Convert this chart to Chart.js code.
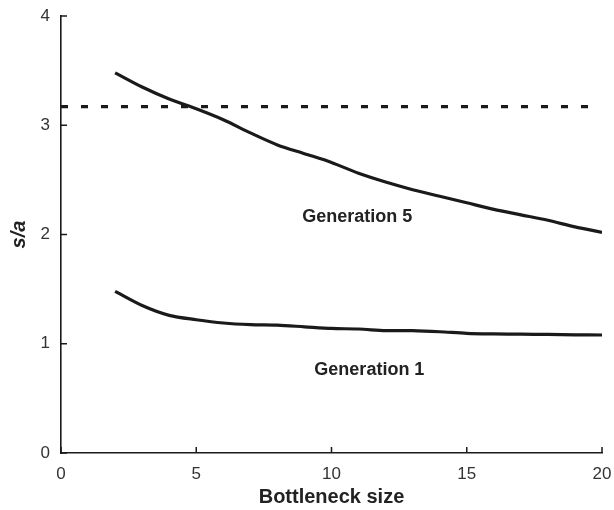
<!DOCTYPE html>
<html>
<head>
<meta charset="utf-8">
<script src="https://cdn.jsdelivr.net/npm/chart.js@4.4.1/dist/chart.umd.min.js"></script>
<style>
  html, body { margin: 0; padding: 0; background: #fff; }
  #wrap { width: 614px; height: 510px; }
</style>
</head>
<body>
<div id="wrap"><canvas id="chart"></canvas></div>
<script>
// bottleneck sizes
const sizes = [2, 3, 4, 5, 6, 7, 8, 9, 10, 11, 12, 13, 14, 15, 16, 17, 18, 19, 20];
// s/a after 5 generations
const gen5 = [3.48, 3.35, 3.24, 3.15, 3.05, 2.93, 2.82, 2.74, 2.66, 2.56, 2.48, 2.41, 2.35, 2.29, 2.23, 2.18, 2.13, 2.07, 2.02];
// s/a after 1 generation
const gen1 = [1.48, 1.35, 1.26, 1.22, 1.19, 1.175, 1.17, 1.155, 1.14, 1.135, 1.12, 1.12, 1.11, 1.095, 1.09, 1.088, 1.085, 1.082, 1.08];
// dashed reference level
const refX = [0, 19.6];
const refY = [3.17, 3.17];
// curve labels
const labelText = ['Generation 5', 'Generation 1'];
const labelX = [10.95, 11.4];
const labelY = [2.16, 0.76];

const xTicks = [0, 5, 10, 15, 20];
const yTicks = [0, 1, 2, 3, 4];

const FONT = '"Liberation Sans", Arial, Helvetica, sans-serif';
const INK = '#1a1a1a';

function pts(xs, ys) {
    return xs.map((x, i) => ({ x: x, y: ys[i] }));
}

// ticks point inward from the axis lines
const innerTicks = {
    id: 'innerTicks',
    afterDraw(chart) {
        const ctx = chart.ctx;
        const xs = chart.scales.x, ys = chart.scales.y;
        const a = chart.chartArea;
        ctx.save();
        ctx.strokeStyle = INK;
        ctx.lineWidth = 1.5;
        ctx.beginPath();
        xTicks.forEach(v => {
            const px = xs.getPixelForValue(v);
            ctx.moveTo(px, a.bottom);
            ctx.lineTo(px, a.bottom - 6);
        });
        yTicks.forEach(v => {
            const py = ys.getPixelForValue(v);
            ctx.moveTo(a.left, py);
            ctx.lineTo(a.left + 6, py);
        });
        ctx.stroke();
        ctx.restore();
    }
};

const curveLabels = {
    id: 'curveLabels',
    afterDatasetsDraw(chart) {
        const ctx = chart.ctx;
        ctx.save();
        ctx.font = 'bold 18px ' + FONT;
        ctx.fillStyle = '#222';
        ctx.textAlign = 'center';
        ctx.textBaseline = 'middle';
        labelText.forEach((t, i) => {
            ctx.fillText(t, chart.scales.x.getPixelForValue(labelX[i]), chart.scales.y.getPixelForValue(labelY[i]));
        });
        ctx.restore();
    }
};

new Chart(document.getElementById('chart'), {
    type: 'line',
    data: {
        datasets: [
            {
                label: 'Generation 5',
                data: pts(sizes, gen5),
                borderColor: INK,
                borderWidth: 3.2,
                pointRadius: 0,
                tension: 0.3
            },
            {
                label: 'Generation 1',
                data: pts(sizes, gen1),
                borderColor: INK,
                borderWidth: 3.2,
                pointRadius: 0,
                tension: 0.3
            },
            {
                label: 'reference',
                data: pts(refX, refY),
                borderColor: INK,
                borderWidth: 3.2,
                borderDash: [7, 13],
                pointRadius: 0
            }
        ]
    },
    options: {
        responsive: true,
        maintainAspectRatio: false,
        animation: false,
        layout: { padding: { top: 16, right: 12, left: 0, bottom: 0 } },
        plugins: { legend: { display: false }, tooltip: { enabled: false } },
        scales: {
            x: {
                type: 'linear',
                min: 0,
                max: 20,
                grid: { display: false, drawTicks: false },
                border: { display: true, color: INK, width: 1.6 },
                ticks: {
                    stepSize: 5,
                    padding: 11,
                    color: '#333',
                    font: { family: FONT, size: 17 }
                },
                title: {
                    display: true,
                    text: 'Bottleneck size',
                    color: '#222',
                    font: { family: FONT, size: 20, weight: 'bold' },
                    padding: { top: 0, bottom: 1 }
                },
                afterFit(scale) {
                    scale.height = 57;
                    scale.paddingLeft = 0;
                    scale.paddingRight = 0;
                }
            },
            y: {
                min: 0,
                max: 4,
                grid: { display: false, drawTicks: false },
                border: { display: true, color: INK, width: 1.6 },
                ticks: {
                    stepSize: 1,
                    padding: 11,
                    color: '#333',
                    font: { family: FONT, size: 17 }
                },
                title: {
                    display: true,
                    text: 's/a',
                    color: '#222',
                    font: { family: FONT, size: 20, weight: 'bold', style: 'italic' },
                    padding: { top: 7, bottom: 0 }
                },
                afterFit(scale) {
                    scale.width = 61;
                    scale.paddingTop = 0;
                    scale.paddingBottom = 0;
                }
            }
        }
    },
    plugins: [innerTicks, curveLabels]
});
</script>
</body>
</html>
